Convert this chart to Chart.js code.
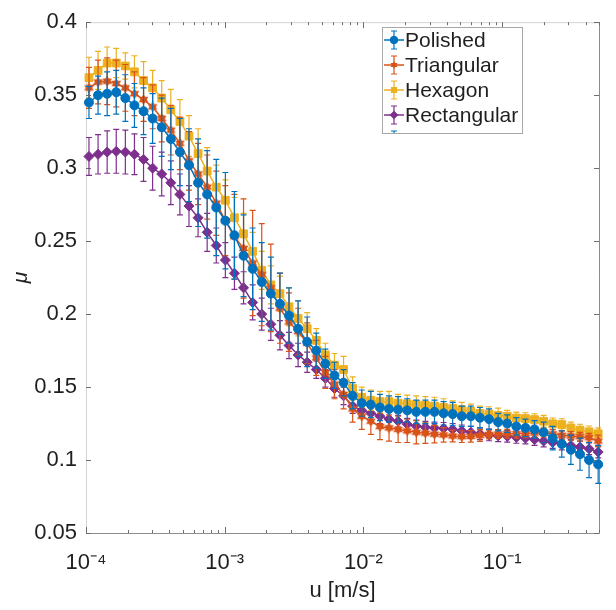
<!DOCTYPE html>
<html>
<head>
<meta charset="utf-8">
<script src="https://cdn.jsdelivr.net/npm/chart.js@4.4.1/dist/chart.umd.min.js"></script>
<style>
    body { margin: 0; background: #fff; }
    #wrap { width: 616px; height: 610px; }
</style>
</head>
<body>
<div id="wrap"><canvas id="chart" width="616" height="610"></canvas></div>
<script>
// sliding speed u [m/s]
const speeds = [
    1.0505e-4, 1.2218e-4, 1.4210e-4, 1.6524e-4, 1.9219e-4, 2.2351e-4, 2.5994e-4, 3.0223e-4,
    3.5154e-4, 4.0888e-4, 4.7534e-4, 5.5283e-4, 6.4298e-4, 7.4770e-4, 8.6961e-4, 1.0113e-3,
    1.1758e-3, 1.3677e-3, 1.5905e-3, 1.8498e-3, 2.1513e-3, 2.5015e-3, 2.9093e-3, 3.3837e-3,
    3.9346e-3, 4.5761e-3, 5.3211e-3, 6.1886e-3, 7.1975e-3, 8.3696e-3, 9.7343e-3, 1.1322e-2,
    1.3165e-2, 1.5311e-2, 1.7803e-2, 2.0706e-2, 2.4083e-2, 2.8001e-2, 3.2566e-2, 3.7875e-2,
    4.4042e-2, 5.1223e-2, 5.9575e-2, 6.9278e-2, 8.0572e-2, 9.3694e-2, 0.10897, 0.12674,
    0.14738, 0.17140, 0.19934, 0.23181, 0.26961, 0.31355, 0.36466, 0.42403, 0.49317
];

// friction coefficient per surface
const polished = [
    0.345, 0.350, 0.351, 0.352, 0.348, 0.343, 0.339, 0.334, 0.328, 0.320,
    0.311, 0.302, 0.290, 0.282, 0.273, 0.264, 0.254, 0.240, 0.231, 0.222,
    0.214, 0.207, 0.199, 0.190, 0.181, 0.175, 0.166, 0.158, 0.153, 0.144,
    0.139, 0.138, 0.136, 0.135, 0.1345, 0.134, 0.133, 0.133, 0.133, 0.132,
    0.1315, 0.130, 0.130, 0.129, 0.128, 0.126, 0.125, 0.123, 0.122, 0.121,
    0.119, 0.115, 0.111, 0.107, 0.104, 0.100, 0.097
];
const triangular = [
    0.355, 0.359, 0.3595, 0.358, 0.355, 0.351, 0.347, 0.342, 0.334, 0.326,
    0.317, 0.305, 0.296, 0.287, 0.276, 0.264, 0.253, 0.245, 0.235, 0.227,
    0.218, 0.204, 0.1945, 0.188, 0.180, 0.170, 0.160, 0.152, 0.145, 0.135,
    0.130, 0.1266, 0.123, 0.122, 0.121, 0.120, 0.119, 0.1184, 0.1177, 0.1172,
    0.1165, 0.116, 0.1162, 0.1168, 0.1175, 0.1178, 0.118, 0.118, 0.1183, 0.1185,
    0.1187, 0.118, 0.117, 0.1164, 0.116, 0.1153, 0.113
];
const hexagon = [
    0.362, 0.367, 0.372, 0.372, 0.370, 0.366, 0.360, 0.355, 0.348, 0.340,
    0.332, 0.322, 0.310, 0.298, 0.287, 0.278, 0.266, 0.255, 0.243, 0.230,
    0.220, 0.214, 0.205, 0.197, 0.190, 0.182, 0.172, 0.165, 0.162, 0.149,
    0.143, 0.141, 0.140, 0.140, 0.139, 0.1385, 0.138, 0.1375, 0.137, 0.136,
    0.1355, 0.1345, 0.1333, 0.132, 0.1315, 0.1306, 0.130, 0.1288, 0.1284, 0.1277,
    0.1266, 0.1248, 0.1243, 0.122, 0.1205, 0.1193, 0.118
];
const rectangular = [
    0.308, 0.3095, 0.311, 0.3115, 0.311, 0.3095, 0.306, 0.300, 0.296, 0.290,
    0.282, 0.274, 0.266, 0.256, 0.247, 0.237, 0.228, 0.218, 0.208, 0.200,
    0.193, 0.1855, 0.1785, 0.172, 0.167, 0.162, 0.156, 0.149, 0.144, 0.137,
    0.134, 0.132, 0.130, 0.128, 0.1266, 0.1245, 0.1233, 0.1225, 0.122, 0.1217,
    0.121, 0.120, 0.119, 0.118, 0.1172, 0.1166, 0.1162, 0.1155, 0.115, 0.114,
    0.113, 0.112, 0.111, 0.110, 0.109, 0.1077, 0.1055
];

// half length of the error bars
const polishedErr = [
    0.011, 0.013, 0.015, 0.015, 0.016, 0.015, 0.016, 0.017, 0.020, 0.021,
    0.023, 0.025, 0.030, 0.030, 0.033, 0.033, 0.030, 0.028, 0.028, 0.027,
    0.025, 0.021, 0.019, 0.019, 0.017, 0.012, 0.010, 0.009, 0.009, 0.009,
    0.009, 0.009, 0.009, 0.009, 0.009, 0.008, 0.008, 0.008, 0.008, 0.008,
    0.008, 0.007, 0.007, 0.007, 0.007, 0.006, 0.006, 0.006, 0.006, 0.006,
    0.007, 0.008, 0.009, 0.010, 0.011, 0.012, 0.013
];
const triangularErr = [
    0.014, 0.015, 0.016, 0.016, 0.016, 0.015, 0.015, 0.015, 0.016, 0.017,
    0.018, 0.020, 0.021, 0.022, 0.022, 0.024, 0.029, 0.034, 0.036, 0.035,
    0.030, 0.024, 0.020, 0.016, 0.014, 0.012, 0.011, 0.010, 0.010, 0.009,
    0.009, 0.009, 0.009, 0.009, 0.009, 0.008, 0.008, 0.007, 0.006, 0.005,
    0.004, 0.004, 0.004, 0.004, 0.003, 0.003, 0.003, 0.003, 0.003, 0.003,
    0.003, 0.003, 0.003, 0.003, 0.003, 0.003, 0.004
];
const hexagonErr = [
    0.014, 0.013, 0.011, 0.010, 0.009, 0.011, 0.013, 0.012, 0.012, 0.014,
    0.015, 0.014, 0.017, 0.016, 0.015, 0.014, 0.014, 0.014, 0.013, 0.013,
    0.013, 0.012, 0.013, 0.012, 0.011, 0.008, 0.008, 0.008, 0.009, 0.008,
    0.007, 0.007, 0.007, 0.007, 0.006, 0.006, 0.006, 0.006, 0.006, 0.006,
    0.005, 0.005, 0.005, 0.005, 0.005, 0.005, 0.004, 0.004, 0.004, 0.004,
    0.004, 0.004, 0.004, 0.004, 0.004, 0.004, 0.004
];
const rectangularErr = [
    0.013, 0.0135, 0.0145, 0.015, 0.015, 0.014, 0.015, 0.015, 0.015, 0.015,
    0.014, 0.014, 0.013, 0.013, 0.012, 0.012, 0.011, 0.011, 0.012, 0.011,
    0.011, 0.010, 0.009, 0.008, 0.007, 0.006, 0.006, 0.006, 0.006, 0.005,
    0.005, 0.005, 0.005, 0.005, 0.004, 0.004, 0.004, 0.004, 0.004, 0.004,
    0.004, 0.004, 0.004, 0.004, 0.004, 0.004, 0.004, 0.004, 0.004, 0.004,
    0.004, 0.004, 0.004, 0.004, 0.004, 0.004, 0.004
];

const seriesNames = ["Polished", "Triangular", "Hexagon", "Rectangular"];

const xMajorTicks = [1e-4, 1e-3, 1e-2, 1e-1];
const xMajorLabels = ["10⁻⁴", "10⁻³", "10⁻²", "10⁻¹"];
const xMinorTicks = [
    2e-4, 3e-4, 4e-4, 5e-4, 6e-4, 7e-4, 8e-4, 9e-4,
    2e-3, 3e-3, 4e-3, 5e-3, 6e-3, 7e-3, 8e-3, 9e-3,
    2e-2, 3e-2, 4e-2, 5e-2, 6e-2, 7e-2, 8e-2, 9e-2,
    2e-1, 3e-1, 4e-1, 5e-1
];
const yTicks = [0.05, 0.1, 0.15, 0.2, 0.25, 0.3, 0.35, 0.4];
const yTickLabels = ["0.05", "0.1", "0.15", "0.2", "0.25", "0.3", "0.35", "0.4"];

const colors = {
    polished: "#0072BD",
    triangular: "#D95319",
    hexagon: "#EDB120",
    rectangular: "#7E2F8E",
};

const FONT = "'Liberation Sans', Arial, Helvetica, sans-serif";
const TEXT = "#1f1f1f";

function hexagram(color, r) {
    const c = document.createElement("canvas");
    const s = Math.ceil(r * 2 + 2);
    c.width = s;
    c.height = s;
    const g = c.getContext("2d");
    g.fillStyle = color;
    [-90, 90].forEach((start) => {
        g.beginPath();
        for (let k = 0; k < 3; k++) {
            const a = ((start + k * 120) * Math.PI) / 180;
            const px = s / 2 + r * Math.cos(a);
            const py = s / 2 + r * Math.sin(a);
            k === 0 ? g.moveTo(px, py) : g.lineTo(px, py);
        }
        g.closePath();
        g.fill();
    });
    return c;
}

const starMarker = hexagram(colors.triangular, 5.5);

function series(label, values, color, style, radius) {
    return {
        label: label,
        data: values.map((v, i) => ({ x: speeds[i], y: v })),
        borderColor: color,
        backgroundColor: color,
        pointBackgroundColor: color,
        pointBorderColor: color,
        pointStyle: style,
        pointRadius: radius,
        pointBorderWidth: 1,
        borderWidth: 1.5,
        tension: 0,
        clip: false,
    };
}

const datasets = [
    series(seriesNames[0], polished, colors.polished, "circle", 4.5),
    series(seriesNames[1], triangular, colors.triangular, starMarker, 5),
    series(seriesNames[2], hexagon, colors.hexagon, "rect", 5.5),
    series(seriesNames[3], rectangular, colors.rectangular, "rectRot", 5),
];
const errors = [polishedErr, triangularErr, hexagonErr, rectangularErr];

function drawErrorBar(ctx, x, top, bottom, cap) {
    ctx.beginPath();
    ctx.moveTo(x, top);
    ctx.lineTo(x, bottom);
    ctx.moveTo(x - cap, top);
    ctx.lineTo(x + cap, top);
    ctx.moveTo(x - cap, bottom);
    ctx.lineTo(x + cap, bottom);
    ctx.stroke();
}

const errorBars = {
    id: "errorBars",
    beforeDatasetDraw(chart, args) {
        const ds = chart.data.datasets[args.index];
        const err = errors[args.index];
        const { ctx } = chart;
        const x = chart.scales.x;
        const y = chart.scales.y;
        ctx.save();
        ctx.strokeStyle = ds.borderColor;
        ctx.lineWidth = 1.2;
        ds.data.forEach((p, i) => {
            const px = x.getPixelForValue(p.x);
            drawErrorBar(ctx, px, y.getPixelForValue(p.y + err[i]), y.getPixelForValue(p.y - err[i]), 3);
        });
        ctx.restore();
    },
};

const axesBox = {
    id: "axesBox",
    beforeDatasetsDraw(chart) {
        const { ctx, chartArea: a } = chart;
        const x = chart.scales.x;
        const y = chart.scales.y;
        ctx.save();
        ctx.lineWidth = 1;
        // box
        ctx.strokeStyle = "#d4d4d4";
        ctx.beginPath();
        ctx.moveTo(a.left + 0.5, a.bottom);
        ctx.lineTo(a.left + 0.5, a.top + 0.5);
        ctx.lineTo(a.right, a.top + 0.5);
        ctx.stroke();
        ctx.strokeStyle = "#8c8c8c";
        ctx.beginPath();
        ctx.moveTo(a.left, a.bottom + 0.5);
        ctx.lineTo(a.right + 0.5, a.bottom + 0.5);
        ctx.lineTo(a.right + 0.5, a.top);
        ctx.stroke();
        // inward ticks
        ctx.strokeStyle = "#6e6e6e";
        ctx.beginPath();
        x.ticks.forEach((t) => {
            const px = Math.round(x.getPixelForValue(t.value)) + 0.5;
            const len = xMajorTicks.includes(t.value) ? 6 : 3;
            ctx.moveTo(px, a.bottom);
            ctx.lineTo(px, a.bottom - len);
            ctx.moveTo(px, a.top);
            ctx.lineTo(px, a.top + len);
        });
        y.ticks.forEach((t) => {
            const py = Math.round(y.getPixelForValue(t.value)) + 0.5;
            ctx.moveTo(a.left, py);
            ctx.lineTo(a.left + 5, py);
            ctx.moveTo(a.right, py);
            ctx.lineTo(a.right - 5, py);
        });
        ctx.stroke();
        ctx.restore();
    },
};

const boxLegend = {
    id: "boxLegend",
    afterDraw(chart) {
        const { ctx } = chart;
        const left = 382.5;
        const top = 27.5;
        const width = 140;
        const height = 106;
        ctx.save();
        ctx.fillStyle = "#ffffff";
        ctx.fillRect(left, top, width, height);
        ctx.strokeStyle = "#a8a8a8";
        ctx.lineWidth = 1;
        ctx.strokeRect(left, top, width, height);
        ctx.font = "21px " + FONT;
        ctx.textBaseline = "middle";
        ctx.textAlign = "left";
        chart.data.datasets.forEach((ds, i) => {
            const cy = 40 + i * 25;
            const cx = 394;
            ctx.strokeStyle = ds.borderColor;
            ctx.lineWidth = 1.5;
            ctx.beginPath();
            ctx.moveTo(384, cy);
            ctx.lineTo(404, cy);
            ctx.stroke();
            ctx.lineWidth = 1.2;
            drawErrorBar(ctx, cx, cy - 9, cy + 9, 3);
            ctx.fillStyle = ds.borderColor;
            if (ds.pointStyle === starMarker) {
                ctx.drawImage(hexagram(ds.borderColor, 4), cx - 5, cy - 5);
            } else {
                Chart.helpers.drawPoint(ctx, {
                    pointStyle: ds.pointStyle,
                    radius: 3.5,
                    rotation: 0,
                    borderWidth: 1,
                }, cx, cy);
                ctx.fill();
            }
            ctx.fillStyle = TEXT;
            ctx.fillText(ds.label, 405, cy + 1);
        });
        // stub of a clipped fifth entry, as in the source figure
        ctx.strokeStyle = colors.polished;
        ctx.lineWidth = 1.2;
        ctx.beginPath();
        ctx.moveTo(391, 131);
        ctx.lineTo(397, 131);
        ctx.moveTo(394, 131);
        ctx.lineTo(394, 133);
        ctx.stroke();
        ctx.restore();
    },
};

Chart.defaults.font.family = FONT;
Chart.defaults.color = TEXT;

new Chart(document.getElementById("chart"), {
    type: "line",
    data: { datasets: datasets },
    options: {
        responsive: false,
        animation: false,
        events: [],
        layout: { padding: { top: 16, right: 12, left: 0, bottom: 0 } },
        plugins: {
            legend: { display: false },
            tooltip: { enabled: false },
        },
        scales: {
            x: {
                type: "logarithmic",
                min: 1e-4,
                max: 0.5,
                grid: { display: false, drawTicks: false },
                border: { display: false },
                afterBuildTicks: (scale) => {
                    scale.ticks = xMajorTicks.concat(xMinorTicks).sort((a, b) => a - b).map((v) => ({ value: v }));
                },
                afterFit: (scale) => {
                    scale.height = 77;
                },
                ticks: {
                    autoSkip: false,
                    maxRotation: 0,
                    padding: 17,
                    color: TEXT,
                    font: { size: 22 },
                    callback: (value) => {
                        const k = xMajorTicks.findIndex((m) => Math.abs(m - value) / m < 1e-6);
                        return k >= 0 ? xMajorLabels[k] : "";
                    },
                },
                title: {
                    display: true,
                    text: "u [m/s]",
                    color: TEXT,
                    font: { size: 22 },
                    padding: { top: 0, bottom: 6 },
                },
            },
            y: {
                type: "linear",
                min: 0.05,
                max: 0.4,
                grid: { display: false, drawTicks: false },
                border: { display: false },
                afterBuildTicks: (scale) => {
                    scale.ticks = yTicks.map((v) => ({ value: v }));
                },
                afterFit: (scale) => {
                    scale.width = 86;
                },
                ticks: {
                    padding: 9,
                    color: TEXT,
                    font: { size: 22 },
                    callback: (value, index) => yTickLabels[index],
                },
                title: {
                    display: true,
                    text: "μ",
                    color: TEXT,
                    font: { size: 21, style: "italic" },
                    padding: { top: 9, bottom: 0 },
                },
            },
        },
    },
    plugins: [errorBars, axesBox, boxLegend],
});
</script>
</body>
</html>
